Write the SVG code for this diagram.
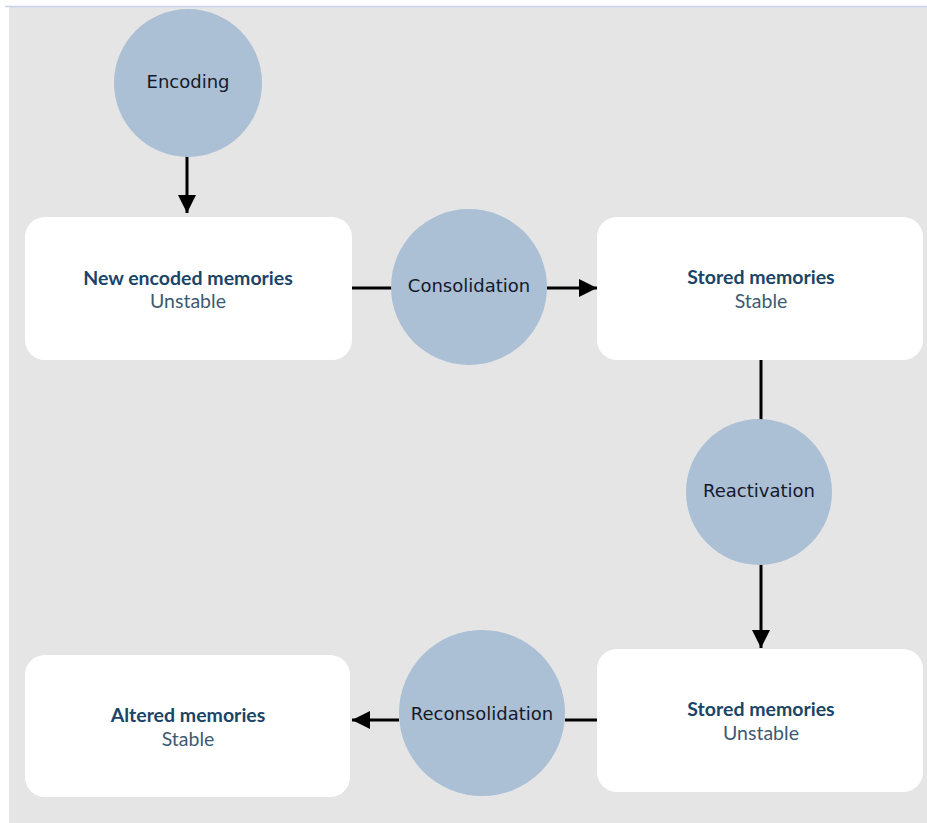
<svg xmlns="http://www.w3.org/2000/svg" width="927" height="823" viewBox="0 0 927 823">
  <style>
    .panel { fill: #ffffff; }
    .step { fill: #abbfd5; }
    .step-label { font-family: "DejaVu Sans", sans-serif; font-size: 18px; fill: #14192a; text-anchor: middle; dominant-baseline: central; }
    .title { font-family: Lato, "Noto Sans", sans-serif; font-weight: bold; font-size: 19.5px; fill: #1b4567; text-anchor: middle; }
    .sub { font-family: Lato, "Noto Sans", sans-serif; font-size: 19.5px; fill: #3d5a73; text-anchor: middle; }
    .link { stroke: #000000; stroke-width: 3; fill: none; }
  </style>
  <defs>
    <marker id="head" viewBox="0 0 10 10" refX="10" refY="5" markerWidth="6" markerHeight="6" markerUnits="strokeWidth" orient="auto">
      <path d="M0,0 L10,5 L0,10 Z" fill="#000000"/>
    </marker>
  </defs>

  <!-- page -->
  <rect x="0" y="0" width="927" height="823" fill="#ffffff"/>
  <rect x="9" y="7" width="918" height="816" fill="#e5e5e5"/>
  <line x1="5" y1="6.5" x2="927" y2="6.5" stroke="#c6d3e8" stroke-width="1.5"/>

  <!-- connectors -->
  <g id="connectors">
    <line class="link" x1="187" y1="156" x2="187" y2="213" marker-end="url(#head)"/>
    <line class="link" x1="352" y1="288" x2="392" y2="288"/>
    <line class="link" x1="547" y1="288" x2="597" y2="288" marker-end="url(#head)"/>
    <line class="link" x1="761" y1="360" x2="761" y2="420"/>
    <line class="link" x1="761" y1="565" x2="761" y2="648" marker-end="url(#head)"/>
    <line class="link" x1="597" y1="720" x2="565" y2="720"/>
    <line class="link" x1="399" y1="720" x2="352" y2="720" marker-end="url(#head)"/>
  </g>

  <!-- process steps -->
  <g id="encoding">
    <circle class="step" cx="188" cy="83" r="74"/>
    <text class="step-label" x="188" y="81">Encoding</text>
  </g>
  <g id="consolidation">
    <circle class="step" cx="469" cy="287" r="78"/>
    <text class="step-label" x="469" y="285">Consolidation</text>
  </g>
  <g id="reactivation">
    <circle class="step" cx="759" cy="492" r="73"/>
    <text class="step-label" x="759" y="490">Reactivation</text>
  </g>
  <g id="reconsolidation">
    <circle class="step" cx="482" cy="713" r="83"/>
    <text class="step-label" x="482" y="713">Reconsolidation</text>
  </g>

  <!-- memory states -->
  <g id="new-encoded">
    <rect class="panel" x="25" y="217" width="327" height="143" rx="20"/>
    <text class="title" x="188" y="285">New encoded memories</text>
    <text class="sub" x="188" y="308">Unstable</text>
  </g>
  <g id="stored-stable">
    <rect class="panel" x="597" y="217" width="326" height="143" rx="20"/>
    <text class="title" x="761" y="284">Stored memories</text>
    <text class="sub" x="761" y="308">Stable</text>
  </g>
  <g id="stored-unstable">
    <rect class="panel" x="597" y="649" width="326" height="143" rx="20"/>
    <text class="title" x="761" y="716">Stored memories</text>
    <text class="sub" x="761" y="740">Unstable</text>
  </g>
  <g id="altered">
    <rect class="panel" x="25" y="655" width="325" height="142" rx="20"/>
    <text class="title" x="188" y="722">Altered memories</text>
    <text class="sub" x="188" y="746">Stable</text>
  </g>
</svg>
